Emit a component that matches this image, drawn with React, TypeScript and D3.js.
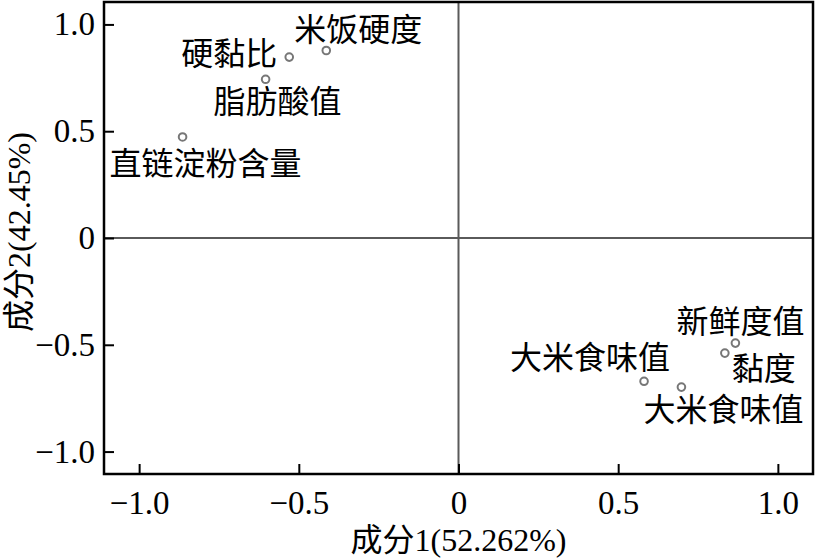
import React, { useEffect, useRef } from 'react';
import * as d3 from 'd3';

// PCA loadings
const variables = ['米饭硬度', '硬黏比', '脂肪酸值', '直链淀粉含量', '新鲜度值', '黏度', '大米食味值', '大米食味值'];
const pc1 = [-0.414, -0.53, -0.604, -0.864, 0.867, 0.834, 0.581, 0.698];
const pc2 = [0.878, 0.847, 0.743, 0.473, -0.492, -0.539, -0.671, -0.698];

const xTicks = [-1, -0.5, 0, 0.5, 1];
const yTicks = [-1, -0.5, 0, 0.5, 1];
const xTitle = '成分1(52.262%)';
const yTitle = '成分2(42.45%)';

// label placement relative to each point (layout only)
const labelOffsets: [number, number, string][] = [
  [-32, -9, 'start'],
  [-12, 8, 'end'],
  [-52, 34, 'start'],
  [-73, 38, 'start'],
  [-59, -10, 'start'],
  [7, 27, 'start'],
  [26, -12, 'end'],
  [-38, 34, 'start'],
];

const FONT = '"Liberation Serif", "Times New Roman", "Noto Sans CJK SC", serif';

const App: React.FC = () => {
  const svgRef = useRef<SVGSVGElement>(null);

  useEffect(() => {
    if (!svgRef.current) return;
    const svg = d3.select(svgRef.current);
    svg.selectAll('*').remove();

    const width = 815;
    const height = 559;
    const margin = { top: 2, right: 2, bottom: 85, left: 104 };

    const x = d3.scaleLinear().domain([-1.11, 1.11]).range([margin.left, width - margin.right]);
    const y = d3.scaleLinear().domain([-1.105, 1.105]).range([height - margin.bottom, margin.top]);

    const fmt = (d: number) => (d === 0 ? '0' : d.toFixed(1).replace('-', '\u2212'));

    // zero lines
    svg.append('line')
      .attr('x1', x(0)).attr('x2', x(0))
      .attr('y1', y.range()[1]).attr('y2', y.range()[0])
      .attr('stroke', '#5a5a5a').attr('stroke-width', 2);
    svg.append('line')
      .attr('x1', x.range()[0]).attr('x2', x.range()[1])
      .attr('y1', y(0)).attr('y2', y(0))
      .attr('stroke', '#5a5a5a').attr('stroke-width', 2);

    // x axis (ticks pointing in)
    const xAxis = svg.append('g')
      .attr('transform', `translate(0,${y.range()[0]})`)
      .call(d3.axisBottom(x).tickValues(xTicks).tickSizeInner(-10).tickSizeOuter(0).tickPadding(17).tickFormat(d => fmt(d as number)));
    xAxis.select('.domain').remove();
    xAxis.selectAll('line').attr('stroke', '#000').attr('stroke-width', 2);
    xAxis.selectAll('text').style('font-family', FONT).style('font-size', '33px').attr('fill', '#000');

    // y axis
    const yAxis = svg.append('g')
      .attr('transform', `translate(${x.range()[0]},0)`)
      .call(d3.axisLeft(y).tickValues(yTicks).tickSizeInner(-10).tickSizeOuter(0).tickPadding(9).tickFormat(d => fmt(d as number)));
    yAxis.select('.domain').remove();
    yAxis.selectAll('line').attr('stroke', '#000').attr('stroke-width', 2);
    yAxis.selectAll('text').style('font-family', FONT).style('font-size', '33px').attr('fill', '#000');

    // frame
    svg.append('rect')
      .attr('x', x.range()[0]).attr('y', y.range()[1])
      .attr('width', x.range()[1] - x.range()[0])
      .attr('height', y.range()[0] - y.range()[1])
      .attr('fill', 'none').attr('stroke', '#000').attr('stroke-width', 2.5);

    // points
    svg.selectAll('.pt')
      .data(variables)
      .enter().append('circle')
      .attr('class', 'pt')
      .attr('cx', (_, i) => x(pc1[i]))
      .attr('cy', (_, i) => y(pc2[i]))
      .attr('r', 3.8)
      .attr('fill', '#fff')
      .attr('stroke', '#777')
      .attr('stroke-width', 2);

    // labels
    svg.selectAll('.lbl')
      .data(variables)
      .enter().append('text')
      .attr('class', 'lbl')
      .attr('x', (_, i) => x(pc1[i]) + labelOffsets[i][0])
      .attr('y', (_, i) => y(pc2[i]) + labelOffsets[i][1])
      .attr('text-anchor', (_, i) => labelOffsets[i][2])
      .style('font-family', FONT)
      .style('font-size', '32px')
      .attr('fill', '#000')
      .text(d => d);

    // axis titles
    svg.append('text')
      .attr('x', x(0))
      .attr('y', 551)
      .attr('text-anchor', 'middle')
      .style('font-family', FONT)
      .style('font-size', '32px')
      .text(xTitle);

    svg.append('text')
      .attr('transform', `translate(30,${y(0) - 6}) rotate(-90)`)
      .attr('text-anchor', 'middle')
      .style('font-family', FONT)
      .style('font-size', '32px')
      .text(yTitle);
  }, []);

  return (
    <svg ref={svgRef} width={815} height={559}
      style={{ position: 'absolute', left: 0, top: 0, background: '#fff' }} />
  );
};

export default App;
